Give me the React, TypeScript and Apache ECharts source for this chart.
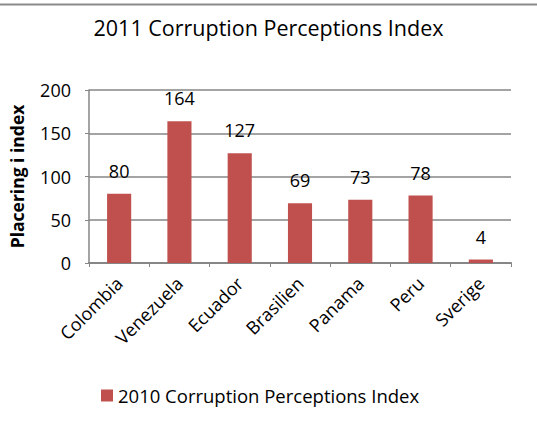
import React, { useEffect, useRef } from "react";
import * as echarts from "echarts";

const categories = ["Colombia", "Venezuela", "Ecuador", "Brasilien", "Panama", "Peru", "Sverige"];
const values = [80, 164, 127, 69, 73, 78, 4];
const seriesName = "2010 Corruption Perceptions Index";
const titleText = "2011 Corruption Perceptions Index";
const yAxisName = "Placering i index";

const FONT = "'Open Sans', 'Noto Sans', sans-serif";

export default function App() {
  const ref = useRef<HTMLDivElement>(null);
  useEffect(() => {
    document.body.style.margin = "0";
    const chart = echarts.init(ref.current!, undefined, { renderer: "svg" });
    chart.setOption({
      animation: false,
      backgroundColor: "#ffffff",
      textStyle: { fontFamily: FONT },
      title: {
        text: titleText,
        left: "center",
        top: 11,
        textStyle: { fontFamily: FONT, fontSize: 21.5, fontWeight: "normal", color: "#000" },
      },
      legend: {
        bottom: 16,
        left: 96,
        itemWidth: 12,
        itemHeight: 12,
        itemGap: 5,
        icon: "rect",
        textStyle: { fontFamily: FONT, fontSize: 18.5, color: "#000" },
        data: [seriesName],
      },
      grid: { left: 89, right: 26, top: 90, bottom: 163, containLabel: false, outerBoundsMode: "none" },
      xAxis: {
        type: "category",
        data: categories,
        axisLine: { lineStyle: { color: "#868686", width: 2 } },
        axisTick: { show: true, alignWithLabel: false, length: 4, lineStyle: { color: "#868686" } },
        axisLabel: { rotate: 45, fontSize: 18, color: "#000", fontFamily: FONT, margin: 17 },
      },
      yAxis: {
        type: "value",
        min: 0,
        max: 200,
        interval: 50,
        name: yAxisName,
        nameLocation: "middle",
        nameGap: 63,
        nameTextStyle: { fontFamily: FONT, fontSize: 17.5, fontWeight: "bold", color: "#000" },
        axisLine: { show: true, lineStyle: { color: "#868686", width: 1.5 } },
        axisTick: { show: true, length: 4, lineStyle: { color: "#868686" } },
        axisLabel: { fontSize: 18, color: "#000", fontFamily: FONT, margin: 18 },
        splitLine: { lineStyle: { color: "#868686", width: 1.5 } },
      },
      series: [
        {
          name: seriesName,
          type: "bar",
          data: values,
          barWidth: "40%",
          itemStyle: { color: "#C0504D" },
          label: {
            show: true,
            position: "top",
            distance: 14,
            fontSize: 18,
            color: "#000",
            fontFamily: FONT,
          },
        },
      ],
      graphic: [
        {
          type: "line",
          shape: { x1: 0, y1: 4.5, x2: 537, y2: 4.5 },
          style: { stroke: "#8a8a8a", lineWidth: 2 },
        },
      ],
    });
    return () => chart.dispose();
  }, []);
  return <div ref={ref} style={{ width: 537, height: 426 }} />;
}
